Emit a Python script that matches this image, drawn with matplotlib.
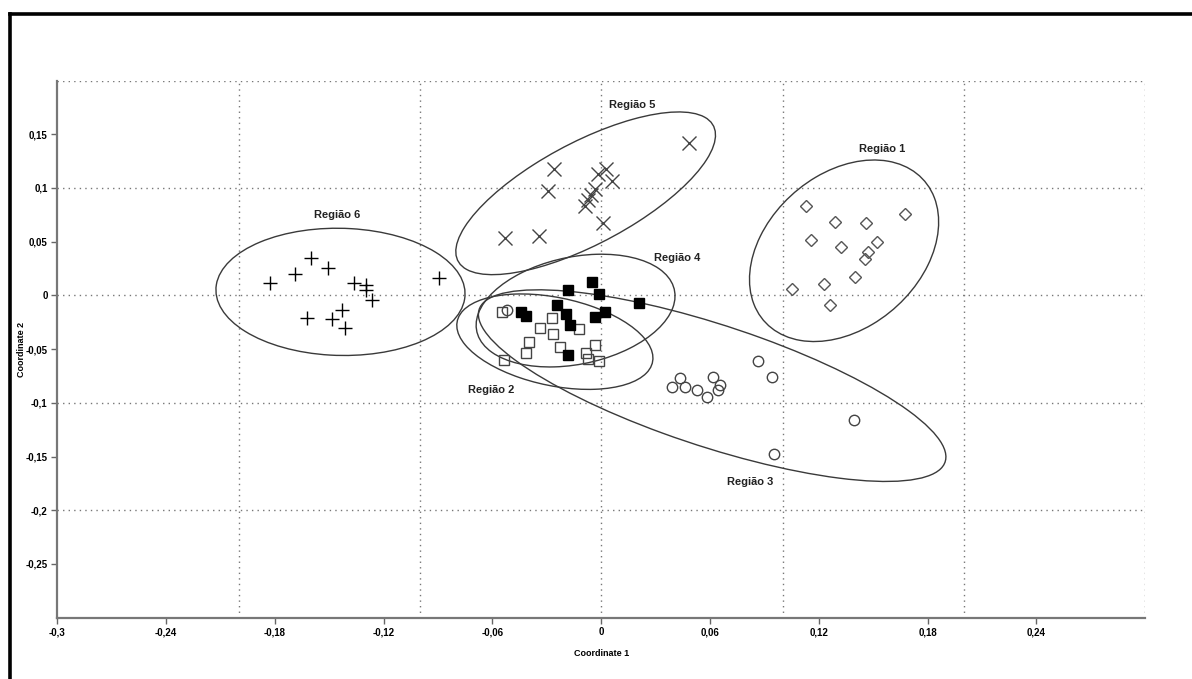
import numpy as np
import matplotlib
matplotlib.use("Agg")
import matplotlib.pyplot as plt
from matplotlib.patches import Ellipse
from matplotlib.lines import Line2D

# Coordinate 1 / Coordinate 2 values, one pair of lists per region
reg1_x = [0.113, 0.129, 0.146, 0.1675, 0.1156, 0.132, 0.152, 0.147, 0.1454, 0.140, 0.123, 0.105, 0.126]
reg1_y = [0.083, 0.068, 0.067, 0.076, 0.052, 0.045, 0.050, 0.040, 0.034, 0.017, 0.011, 0.006, -0.009]

reg2_x = [-0.0548, -0.0271, -0.0339, -0.0265, -0.012, -0.0401, -0.0414, -0.0225, -0.0037, -0.0083, -0.0074, -0.0015, -0.0534]
reg2_y = [-0.0156, -0.0208, -0.0305, -0.0358, -0.0315, -0.0436, -0.0536, -0.0483, -0.0464, -0.054, -0.0592, -0.0607, -0.0601]

reg3_x = [0.0865, 0.0944, 0.0436, 0.039, 0.046, 0.053, 0.0585, 0.0617, 0.0653, 0.0644, 0.1395, 0.0954, -0.0519]
reg3_y = [-0.0607, -0.0757, -0.0769, -0.0857, -0.0857, -0.0879, -0.095, -0.0757, -0.0835, -0.0879, -0.1159, -0.148, -0.0134]

reg4_x = [-0.005, -0.0182, -0.0013, 0.0208, -0.0245, -0.0193, 0.0022, -0.0033, -0.044, -0.0414, -0.0175, -0.0184]
reg4_y = [0.0124, 0.0047, 0.0016, -0.0072, -0.0093, -0.0171, -0.0156, -0.0203, -0.0159, -0.0196, -0.028, -0.0554]

reg5_x = [0.0482, -0.0258, -0.0291, -0.0018, 0.0028, 0.0059, -0.0037, -0.0055, -0.0074, -0.0088, 0.0007, -0.053, -0.0344]
reg5_y = [0.1417, 0.118, 0.0975, 0.113, 0.1178, 0.1065, 0.0988, 0.0935, 0.0888, 0.0832, 0.0676, 0.0536, 0.0554]

reg6_x = [-0.160, -0.151, -0.1688, -0.1826, -0.1366, -0.130, -0.1297, -0.1266, -0.0893, -0.1432, -0.1623, -0.1485, -0.1415]
reg6_y = [0.035, 0.0255, 0.0196, 0.0115, 0.0118, 0.0093, 0.0053, -0.0047, 0.0165, -0.0134, -0.0208, -0.0224, -0.0305]

region_names = ["Região 1", "Região 2", "Região 3", "Região 4", "Região 5", "Região 6"]
label_x = [0.155, -0.0608, 0.0823, 0.042, 0.0171, -0.1458]
label_y = [0.1364, -0.0878, -0.1738, 0.0346, 0.1776, 0.0748]

x_ticks = [-0.3, -0.24, -0.18, -0.12, -0.06, 0, 0.06, 0.12, 0.18, 0.24]
y_ticks = [-0.25, -0.2, -0.15, -0.1, -0.05, 0, 0.05, 0.1, 0.15]

NARROW = ["Liberation Sans Narrow", "Liberation Sans", "DejaVu Sans"]


def tick_text(v):
    if abs(v) < 1e-9:
        return "0"
    return ("%g" % v).replace(".", ",")


def conf_ellipse(ax, xs, ys, p=0.95):
    # 95% ellipse from the group's covariance (F-based scaling)
    xs = np.asarray(xs)
    ys = np.asarray(ys)
    n = len(xs)
    cov = np.cov(xs, ys)
    vals, vecs = np.linalg.eigh(cov)
    m = n - 2
    f = (m / 2.0) * ((1 - p) ** (-2.0 / m) - 1)
    k = np.sqrt(2.0 * (n - 1) / m * f)
    angle = np.degrees(np.arctan2(vecs[1, 1], vecs[0, 1]))
    e = Ellipse((xs.mean(), ys.mean()), 2 * k * np.sqrt(vals[1]), 2 * k * np.sqrt(vals[0]),
                angle=angle, fill=False, edgecolor="#3a3a3a", linewidth=1.0, zorder=2)
    ax.add_patch(e)


fig = plt.figure(figsize=(11.92, 6.79), dpi=100)
ax = fig.add_axes([0.0482, 0.0903, 0.9124, 0.7911])

groups = [
    (reg1_x, reg1_y, dict(marker="D", ms=6, mfc="none", mec="#555555", mew=1.0)),
    (reg2_x, reg2_y, dict(marker="s", ms=7.5, mfc="none", mec="#444444", mew=1.0)),
    (reg3_x, reg3_y, dict(marker="o", ms=7.5, mfc="none", mec="#444444", mew=1.0)),
    (reg4_x, reg4_y, dict(marker="s", ms=7.5, mfc="black", mec="black", mew=1.0)),
    (reg5_x, reg5_y, dict(marker="x", ms=10.5, mec="#444444", mew=1.0)),
    (reg6_x, reg6_y, dict(marker="+", ms=10, mec="black", mew=1.0)),
]

for gx, gy, style in groups:
    ax.plot(gx, gy, linestyle="none", zorder=3, **style)
    conf_ellipse(ax, gx, gy)

for name, lx, ly in zip(region_names, label_x, label_y):
    ax.text(lx, ly, name, ha="center", va="center", fontsize=8, fontweight="bold",
            family=["Liberation Sans", "DejaVu Sans"], color="#222222")

ax.set_xlim(-0.3, 0.3)
ax.set_ylim(-0.3, 0.2)

# dotted grid at 0.1 steps, ticks at other steps
for gx in [-0.2, -0.1, 0, 0.1, 0.2, 0.3]:
    ax.axvline(gx, color="#777777", linewidth=1.0, linestyle=(0, (1, 3)), zorder=1)
for gy in [-0.2, -0.1, 0, 0.1, 0.2]:
    ax.axhline(gy, color="#777777", linewidth=1.0, linestyle=(0, (1, 3)), zorder=1)

ax.set_xticks(x_ticks)
ax.set_xticklabels([tick_text(v) for v in x_ticks])
ax.set_yticks(y_ticks)
ax.set_yticklabels([tick_text(v) for v in y_ticks])
ax.tick_params(direction="out", length=4, width=1, color="#666666", labelsize=7, pad=3)
for lab in ax.get_xticklabels() + ax.get_yticklabels():
    lab.set_family(NARROW)
    lab.set_fontweight("bold")

for s in ["top", "right"]:
    ax.spines[s].set_visible(False)
for s in ["left", "bottom"]:
    ax.spines[s].set_color("#777777")
    ax.spines[s].set_linewidth(1.6)

ax.set_xlabel("Coordinate 1", fontsize=6.5, fontweight="bold", family=NARROW)
ax.set_ylabel("Coordinate 2", fontsize=6.5, fontweight="bold", family=NARROW)
ax.xaxis.set_label_coords(0.5, -0.058)
ax.yaxis.set_label_coords(-0.029, 0.5)

# thick frame on the top and left of the picture
fig.add_artist(Line2D([0.0084, 1.0], [0.980, 0.980], color="black", linewidth=2.6,
                      transform=fig.transFigure))
fig.add_artist(Line2D([0.0084, 0.0084], [0.0, 0.980], color="black", linewidth=2.6,
                      transform=fig.transFigure))

fig.savefig("out.png", dpi=100)
